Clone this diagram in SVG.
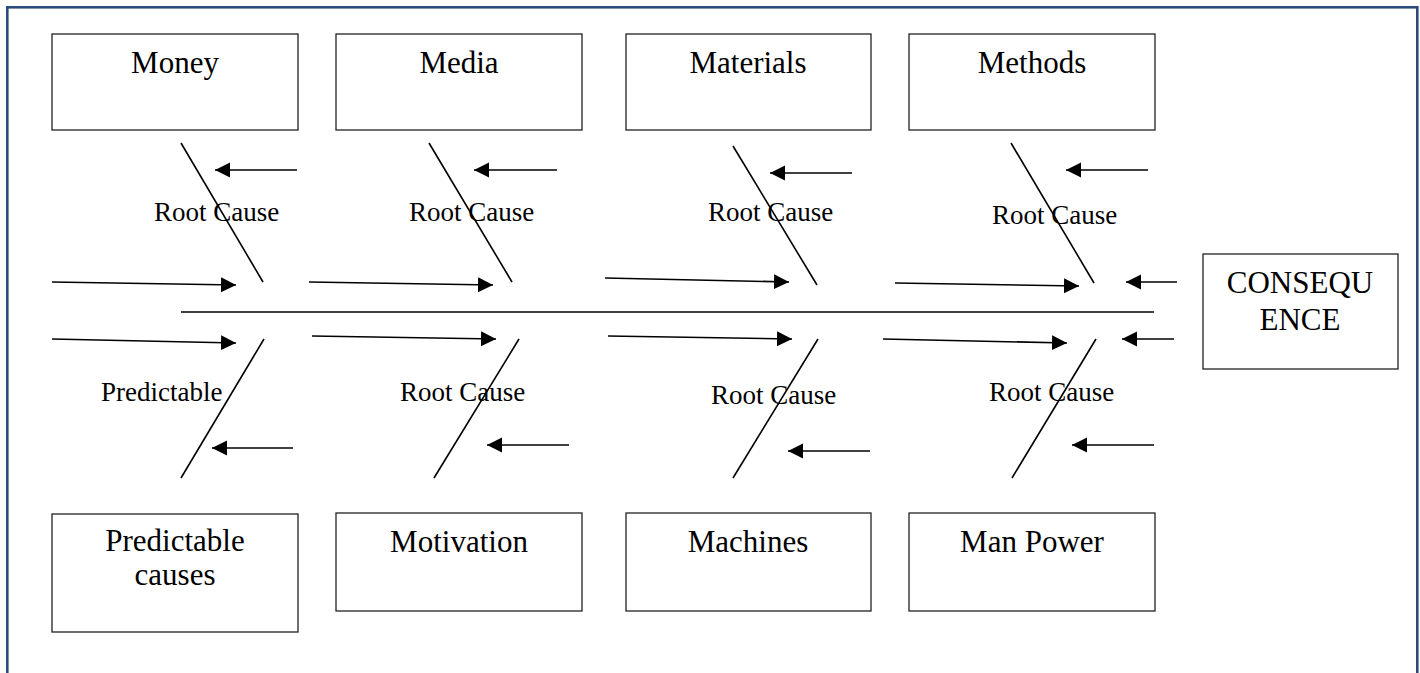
<svg xmlns="http://www.w3.org/2000/svg" width="1420" height="673" viewBox="0 0 1420 673">
<style>
.box{fill:#fff;stroke:#222;stroke-width:1.3}
.bt{font-family:"Liberation Serif","Times New Roman",serif;font-size:31px;fill:#000;text-anchor:middle}
.lb{font-family:"Liberation Serif","Times New Roman",serif;font-size:27px;fill:#000}
.ln{stroke:#000;stroke-width:1.6;fill:none}
.ar{stroke:#000;stroke-width:1.6;fill:none;marker-end:url(#ah)}
</style>
<defs>
<marker id="ah" markerUnits="userSpaceOnUse" markerWidth="16" markerHeight="16" refX="15" refY="7.5" orient="auto">
<path d="M0,0 L15,7.5 L0,15 z" fill="#000"/>
</marker>
</defs>
<rect x="0" y="0" width="1420" height="673" fill="#fff"/>
<rect x="7.3" y="7.3" width="1410" height="700" fill="none" stroke="#2D4A7A" stroke-width="2.6"/>

<g id="money"><rect class="box" x="52" y="34" width="246" height="96"/><text class="bt" x="175" y="73">Money</text></g>
<g id="media"><rect class="box" x="336" y="34" width="246" height="96"/><text class="bt" x="459" y="73">Media</text></g>
<g id="materials"><rect class="box" x="626" y="34" width="245" height="96"/><text class="bt" x="748" y="73">Materials</text></g>
<g id="methods"><rect class="box" x="909" y="34" width="246" height="96"/><text class="bt" x="1032" y="73">Methods</text></g>

<g id="predictable-causes"><rect class="box" x="52" y="514" width="246" height="118"/><text class="bt" x="175" y="551">Predictable</text><text class="bt" x="175" y="585">causes</text></g>
<g id="motivation"><rect class="box" x="336" y="513" width="246" height="98"/><text class="bt" x="459" y="552">Motivation</text></g>
<g id="machines"><rect class="box" x="626" y="513" width="245" height="98"/><text class="bt" x="748" y="552">Machines</text></g>
<g id="man-power"><rect class="box" x="909" y="513" width="246" height="98"/><text class="bt" x="1032" y="552">Man Power</text></g>

<g id="consequence"><rect class="box" x="1203" y="254" width="195" height="115"/><text class="bt" x="1300" y="293">CONSEQU</text><text class="bt" x="1300" y="330">ENCE</text></g>

<g id="labels">
<text class="lb" x="154" y="221">Root Cause</text>
<text class="lb" x="409" y="221">Root Cause</text>
<text class="lb" x="708" y="221">Root Cause</text>
<text class="lb" x="992" y="224">Root Cause</text>
<text class="lb" x="101" y="401">Predictable</text>
<text class="lb" x="400" y="401">Root Cause</text>
<text class="lb" x="711" y="404">Root Cause</text>
<text class="lb" x="989" y="401">Root Cause</text>
</g>

<g id="connectors">
<line class="ln" x1="181" y1="312" x2="1154" y2="312"/>
<line class="ln" x1="181" y1="143" x2="263" y2="282"/>
<line class="ln" x1="429" y1="143" x2="512" y2="282"/>
<line class="ln" x1="733" y1="146" x2="817" y2="285"/>
<line class="ln" x1="1011" y1="143" x2="1094" y2="283"/>
<line class="ln" x1="264" y1="339" x2="181" y2="478"/>
<line class="ln" x1="519" y1="339" x2="434" y2="478"/>
<line class="ln" x1="818" y1="339" x2="733" y2="478"/>
<line class="ln" x1="1096" y1="339" x2="1012" y2="478"/>

<line class="ar" x1="297" y1="170" x2="215" y2="170"/>
<line class="ar" x1="557" y1="170" x2="474" y2="170"/>
<line class="ar" x1="852" y1="173" x2="770" y2="173"/>
<line class="ar" x1="1148" y1="170" x2="1066" y2="170"/>

<line class="ar" x1="52" y1="282" x2="236" y2="285"/>
<line class="ar" x1="309" y1="282" x2="493" y2="285"/>
<line class="ar" x1="605" y1="278" x2="789" y2="282"/>
<line class="ar" x1="895" y1="283" x2="1079" y2="286"/>
<line class="ar" x1="1177" y1="282" x2="1126" y2="282"/>

<line class="ar" x1="52" y1="339" x2="236" y2="343"/>
<line class="ar" x1="312" y1="336" x2="496" y2="339"/>
<line class="ar" x1="608" y1="336" x2="792" y2="339"/>
<line class="ar" x1="883" y1="339" x2="1067" y2="343"/>
<line class="ar" x1="1174" y1="339" x2="1122" y2="339"/>

<line class="ar" x1="293" y1="448" x2="212" y2="448"/>
<line class="ar" x1="569" y1="445" x2="487" y2="445"/>
<line class="ar" x1="870" y1="451" x2="788" y2="451"/>
<line class="ar" x1="1154" y1="445" x2="1072" y2="445"/>
</g>
</svg>
